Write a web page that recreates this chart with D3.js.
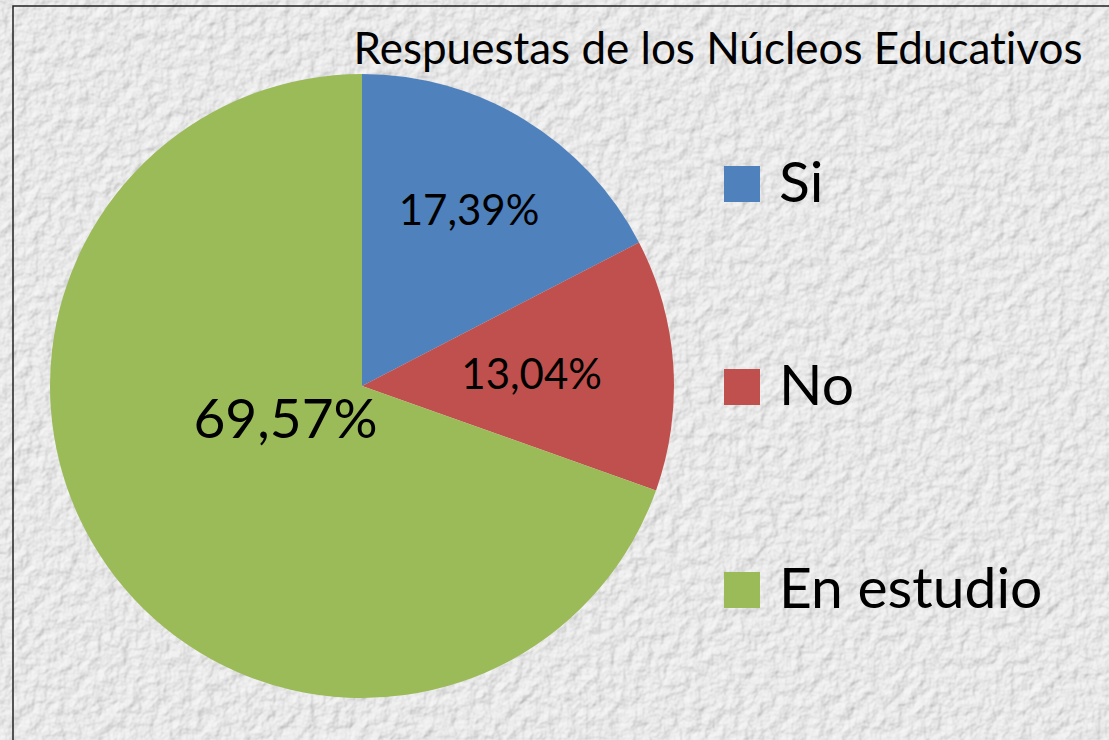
<!DOCTYPE html>
<html>
<head>
<meta charset="utf-8">
<script src="https://cdn.jsdelivr.net/npm/d3@7.9.0/dist/d3.min.js"></script>
<style>
  html, body { margin: 0; padding: 0; background: #e8e8e8; overflow: hidden; }
  svg { display: block; }
  text {
    font-family: Lato, "Open Sans", sans-serif; fill: #000;
    font-variant-ligatures: none;
    font-feature-settings: "liga" 0, "clig" 0, "calt" 0, "dlig" 0;
  }
</style>
</head>
<body>
<svg id="chart"></svg>
<script>
// Data
const title = 'Respuestas de los Núcleos Educativos';
const categories = ['Si', 'No', 'En estudio'];
const values = [17.39, 13.04, 69.57];
const colors = ['#4f81bd', '#c0504d', '#9bbb59'];

const width = 1109, height = 740;
const cx = 362, cy = 386, radius = 312;

const svg = d3.select('#chart').attr('width', width).attr('height', height);

// Stucco-like background texture
const defs = svg.append('defs');
const filter = defs.append('filter').attr('id', 'stucco')
  .attr('x', 0).attr('y', 0).attr('width', '100%').attr('height', '100%');
filter.append('feTurbulence')
  .attr('type', 'fractalNoise').attr('baseFrequency', 0.08)
  .attr('numOctaves', 3).attr('seed', 7).attr('result', 'noise');
filter.append('feDiffuseLighting')
  .attr('in', 'noise').attr('surfaceScale', 2)
  .attr('diffuseConstant', 1.0).attr('lighting-color', '#f5f5f5')
  .attr('result', 'light')
  .append('feDistantLight').attr('azimuth', 225).attr('elevation', 62);

svg.append('rect')
  .attr('width', width).attr('height', height)
  .attr('fill', '#e8e8e8')
  .attr('filter', 'url(#stucco)');

// Frame (top and left edges visible)
svg.append('path')
  .attr('d', `M13,${height}V6H${width}`)
  .attr('fill', 'none').attr('stroke', '#222').attr('stroke-width', 1.5);

// Title
svg.append('text')
  .attr('x', 718).attr('y', 64)
  .attr('text-anchor', 'middle')
  .style('font-size', '44px')
  .text(title);

// Pie
const data = categories.map((c, i) => ({ name: c, value: values[i], color: colors[i] }));
const pie = d3.pie().value(d => d.value).sort(null);
const arcs = pie(data);
const arc = d3.arc().innerRadius(0).outerRadius(radius);

const g = svg.append('g').attr('transform', `translate(${cx},${cy})`);
g.selectAll('path')
  .data(arcs)
  .join('path')
  .attr('d', arc)
  .attr('fill', d => d.data.color);

// Data labels (Excel-style placement)
const labelRadius = [0.66, 0.545, 0.3];
const labelSize = [42, 42, 55];
const labelShift = [[0, 0], [0, 0], [0, -22]];
g.selectAll('text.lbl')
  .data(arcs)
  .join('text')
  .attr('class', 'lbl')
  .attr('transform', (d, i) => {
    const r = radius * labelRadius[i];
    const [x, y] = d3.arc().innerRadius(r).outerRadius(r).centroid(d);
    return `translate(${x + labelShift[i][0]},${y + labelShift[i][1]})`;
  })
  .attr('text-anchor', 'middle')
  .attr('dy', '0.36em')
  .style('font-size', (d, i) => labelSize[i] + 'px')
  .text(d => d3.format('.2f')(d.data.value).replace('.', ',') + '%');

// Legend
const legendY = d3.scalePoint().domain(categories).range([184, 590]);
const legend = svg.append('g').attr('class', 'legend')
  .selectAll('g')
  .data(data)
  .join('g')
  .attr('transform', d => `translate(724,${legendY(d.name)})`);
legend.append('rect')
  .attr('x', 0).attr('y', -18).attr('width', 36).attr('height', 36)
  .attr('fill', d => d.color);
legend.append('text')
  .attr('x', 55).attr('y', 18)
  .style('font-size', '57px')
  .text(d => d.name);
</script>
</body>
</html>
